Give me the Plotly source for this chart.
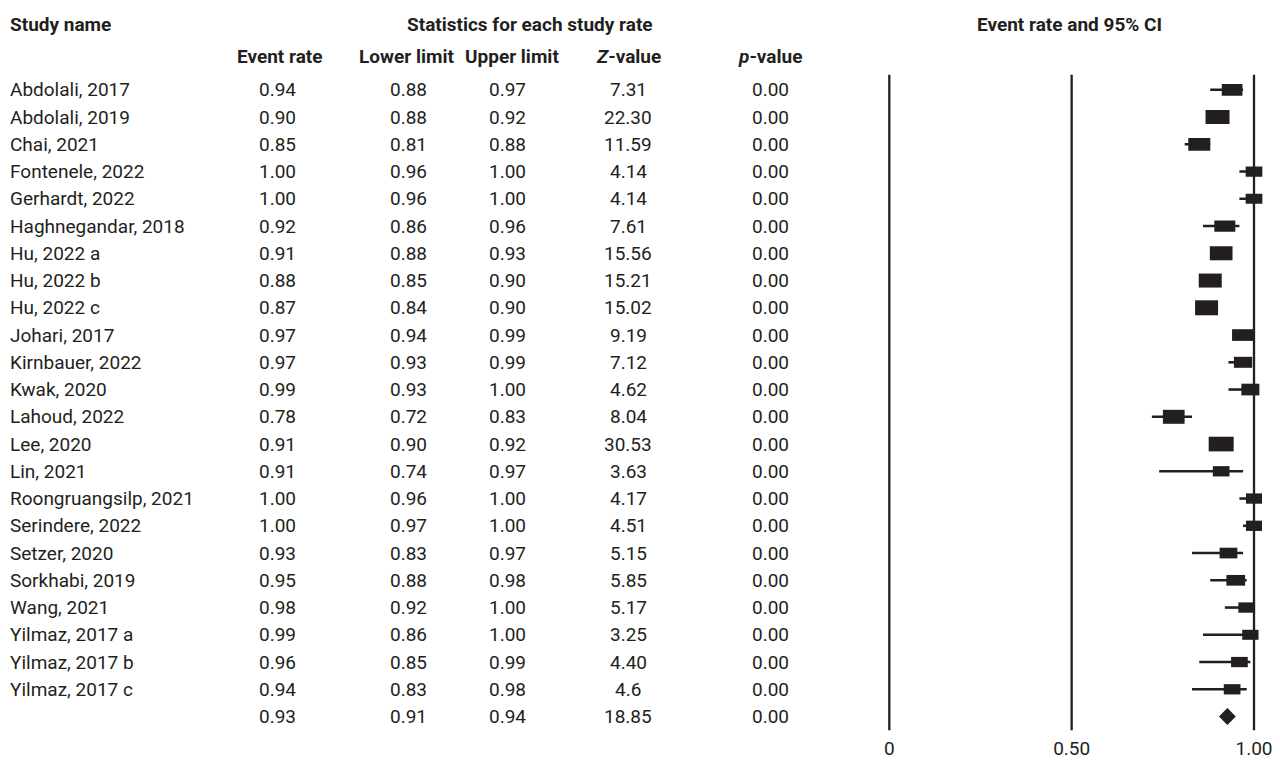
import plotly.graph_objects as go

# ---------------- data ----------------
studies = ["Abdolali, 2017", "Abdolali, 2019", "Chai, 2021", "Fontenele, 2022", "Gerhardt, 2022",
           "Haghnegandar, 2018", "Hu, 2022 a", "Hu, 2022 b", "Hu, 2022 c", "Johari, 2017",
           "Kirnbauer, 2022", "Kwak, 2020", "Lahoud, 2022", "Lee, 2020", "Lin, 2021",
           "Roongruangsilp, 2021", "Serindere, 2022", "Setzer, 2020", "Sorkhabi, 2019", "Wang, 2021",
           "Yilmaz, 2017 a", "Yilmaz, 2017 b", "Yilmaz, 2017 c"]
event_rate = [0.94, 0.90, 0.85, 1.00, 1.00, 0.92, 0.91, 0.88, 0.87, 0.97, 0.97, 0.99, 0.78, 0.91,
              0.91, 1.00, 1.00, 0.93, 0.95, 0.98, 0.99, 0.96, 0.94]
lower = [0.88, 0.88, 0.81, 0.96, 0.96, 0.86, 0.88, 0.85, 0.84, 0.94, 0.93, 0.93, 0.72, 0.90,
         0.74, 0.96, 0.97, 0.83, 0.88, 0.92, 0.86, 0.85, 0.83]
upper = [0.97, 0.92, 0.88, 1.00, 1.00, 0.96, 0.93, 0.90, 0.90, 0.99, 0.99, 1.00, 0.83, 0.92,
         0.97, 1.00, 1.00, 0.97, 0.98, 1.00, 1.00, 0.99, 0.98]
z_value = ["7.31", "22.30", "11.59", "4.14", "4.14", "7.61", "15.56", "15.21", "15.02", "9.19",
           "7.12", "4.62", "8.04", "30.53", "3.63", "4.17", "4.51", "5.15", "5.85", "5.17",
           "3.25", "4.40", "4.6"]
p_value = ["0.00"] * 23

summary_rate = 0.93
summary_lower = 0.91
summary_upper = 0.94
summary_z = "18.85"
summary_p = "0.00"

tick_vals = [0, 0.5, 1.0]
tick_text = ["0", "0.50", "1.00"]

# relative study weights shown as box size (style, px)
box_w_px = [20.7, 24, 22, 16.7, 16.7, 21, 22.7, 23, 23, 22, 18.3, 18, 21.7, 25, 16.7, 16, 16, 17.7,
            18.7, 16.7, 16.3, 16.7, 16.7]
box_h_px = [11.7, 14, 12.7, 10.3, 10, 11.3, 14, 14, 15, 11.7, 11, 11.7, 14, 14.7, 10.3, 10.3, 10.3,
            10.7, 10.7, 10.3, 10, 10.3, 10.3]

# ---------------- layout geometry ----------------
W, H = 1280, 760
OFF = 8                               # page body margin
X0_PX, X1_PX = 889.3 - OFF, 1254.0 - OFF
PX_PER_UNIT = X1_PX - X0_PX
ROW0_PX, ROW_STEP = 89.8 - OFF, 27.25
XR = [-0.05, 1.05]
dom = [(X0_PX + XR[0] * PX_PER_UNIT) / W, (X0_PX + XR[1] * PX_PER_UNIT) / W]
y_top = -ROW0_PX / ROW_STEP
y_bot = (H - ROW0_PX) / ROW_STEP

INK = "#231f20"
FONT = "Roboto, Liberation Sans, sans-serif"
FS = 19

n = len(studies)
rows = list(range(n))
sum_row = n

fig = go.Figure()

# reference vertical lines
for v in tick_vals:
    fig.add_trace(go.Scatter(x=[v, v], y=[-0.55, sum_row + 0.5], mode="lines",
                             line=dict(color=INK, width=2.3), hoverinfo="skip", showlegend=False))

# CI whiskers
wx, wy = [], []
for i in rows:
    wx += [lower[i], upper[i], None]
    wy += [i, i, None]
fig.add_trace(go.Scatter(x=wx, y=wy, mode="lines", line=dict(color=INK, width=2.6),
                         hoverinfo="skip", showlegend=False))

# boxes as horizontal bars
bw = [w / PX_PER_UNIT for w in box_w_px]
bh = [h / ROW_STEP for h in box_h_px]
fig.add_trace(go.Bar(orientation="h", y=rows, x=bw,
                     base=[event_rate[i] - bw[i] / 2 for i in rows],
                     width=bh, marker=dict(color=INK, line=dict(width=0)),
                     hoverinfo="skip", showlegend=False))

# summary diamond
fig.add_trace(go.Scatter(x=[summary_rate - 0.003], y=[sum_row], mode="markers",
                         marker=dict(symbol="diamond", size=13, color=INK, line=dict(width=0)),
                         hoverinfo="skip", showlegend=False))

# ---------------- table text ----------------
col_x = {"name": 0, "er": 277 - OFF, "lo": 408 - OFF, "up": 507 - OFF, "z": 628 - OFF,
         "p": 770 - OFF}
ann = []


def add(text, xpx, yrow, anchor="center", bold=False):
    ann.append(dict(text=("<b>%s</b>" % text) if bold else text, x=xpx / W, xref="paper",
                    y=yrow, yref="y", xanchor=anchor, yanchor="middle", showarrow=False,
                    font=dict(family=FONT, size=FS, color=INK)))


h1 = (24 - OFF - ROW0_PX) / ROW_STEP
h2 = (56 - OFF - ROW0_PX) / ROW_STEP
add("Study name", col_x["name"], h1, "left", True)
add("Statistics for each study rate", 530 - OFF, h1, "center", True)
add("Event rate and 95% CI", 1069 - OFF, h1, "center", True)
add("Event rate", 280 - OFF, h2, "center", True)
add("Lower limit", 406 - OFF, h2, "center", True)
add("Upper limit", 512 - OFF, h2, "center", True)
add("<i>Z</i>-value", col_x["z"], h2, "center", True)
add("<i>p</i>-value", col_x["p"], h2, "center", True)

for i in rows:
    add(studies[i], col_x["name"], i, "left")
    add("%.2f" % event_rate[i], col_x["er"], i)
    add("%.2f" % lower[i], col_x["lo"], i)
    add("%.2f" % upper[i], col_x["up"], i)
    add(z_value[i], col_x["z"], i)
    add(p_value[i], col_x["p"], i)
add("%.2f" % summary_rate, col_x["er"], sum_row)
add("%.2f" % summary_lower, col_x["lo"], sum_row)
add("%.2f" % summary_upper, col_x["up"], sum_row)
add(summary_z, col_x["z"], sum_row)
add(summary_p, col_x["p"], sum_row)

fig.update_layout(
    width=W, height=H, margin=dict(l=0, r=0, t=0, b=0),
    paper_bgcolor="white", plot_bgcolor="white",
    barmode="overlay", showlegend=False, annotations=ann,
    xaxis=dict(domain=dom, range=XR, showgrid=False, zeroline=False, showline=False,
               tickvals=tick_vals, ticktext=tick_text, ticks="",
               tickfont=dict(family=FONT, size=FS, color=INK),
               anchor="free", position=(H - 727) / H),
    yaxis=dict(domain=[0, 1], range=[y_bot, y_top], showgrid=False, zeroline=False,
               showline=False, showticklabels=False, ticks=""),
)

fig.write_html("out.html")
